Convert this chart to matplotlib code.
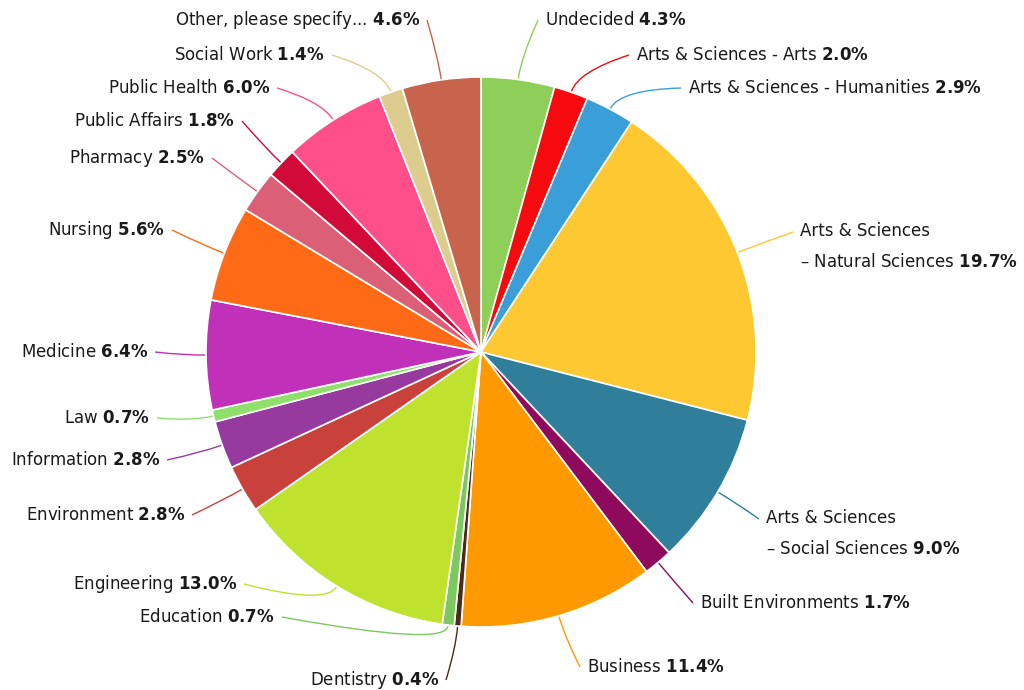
import numpy as np
import matplotlib
matplotlib.use('Agg')
import matplotlib.pyplot as plt
from matplotlib.path import Path
from matplotlib.patches import PathPatch

# ── Data ──────────────────────────────────────────────────────────────────────
categories = [
    'Undecided', 'Arts & Sciences - Arts', 'Arts & Sciences - Humanities',
    'Arts & Sciences\n– Natural Sciences', 'Arts & Sciences\n– Social Sciences',
    'Built Environments', 'Business', 'Dentistry', 'Education', 'Engineering',
    'Environment', 'Information', 'Law', 'Medicine', 'Nursing', 'Pharmacy',
    'Public Affairs', 'Public Health', 'Social Work', 'Other, please specify...',
]
shares = [4.3, 2.0, 2.9, 19.7, 9.0, 1.7, 11.4, 0.4, 0.7, 13.0,
          2.8, 2.8, 0.7, 6.4, 5.6, 2.5, 1.8, 6.0, 1.4, 4.6]
colors = ['#8ecf5a', '#f50a0f', '#3a9fd8', '#fdc832', '#2f7f9a',
          '#8e0a5c', '#ff9900', '#4a2b18', '#7dc860', '#bfe22f',
          '#c8413a', '#963aa0', '#8ee06a', '#c030b8', '#ff6a16',
          '#dc5f78', '#d10a3a', '#ff4f8b', '#dccc8e', '#c8644c']

# ── Layout (pixel coords, y measured from the top) ────────────────────────────
W, H = 1024, 690
CX, CY, R = 481, 352, 275
FS = 12
# (x, y, side) of each label; side +1 = text to the right, -1 = to the left
LABEL_POS = [
    (545, 20, 1), (636, 55, 1), (688, 88, 1), (800, 232, 1), (766, 519, 1),
    (700, 603, 1), (587, 667, 1),
    (439, 680, -1), (275, 617, -1), (237, 584, -1), (185, 515, -1),
    (160, 460, -1), (150, 418, -1), (148, 352, -1), (165, 230, -1),
    (205, 158, -1), (235, 121, -1), (270, 88, -1), (325, 55, -1),
    (420, 20, -1),
]

fig = plt.figure(figsize=(W / 100, H / 100), dpi=100)
ax = fig.add_axes([0, 0, 1, 1])

wedges, _ = ax.pie(shares, colors=colors, startangle=90, counterclock=False,
                   center=(CX, H - CY), radius=R,
                   wedgeprops=dict(edgecolor='white', linewidth=1.2))
ax.set_xlim(0, W)
ax.set_ylim(0, H)
ax.set_aspect('equal')
ax.axis('off')

# ── Labels with curved connectors ─────────────────────────────────────────────
for w, name, val, col, (lx, ly, side) in zip(wedges, categories, shares,
                                              colors, LABEL_POS):
    ang = np.deg2rad((w.theta1 + w.theta2) / 2)
    p0 = (CX + (R + 1) * np.cos(ang), H - CY + (R + 1) * np.sin(ang))
    pc = (CX + (R + 22) * np.cos(ang), H - CY + (R + 22) * np.sin(ang))
    p1 = (lx - 7 * side, H - ly)
    path = Path([p0, pc, p1], [Path.MOVETO, Path.CURVE3, Path.CURVE3])
    ax.add_patch(PathPatch(path, fill=False, edgecolor=col, lw=1.0))

    label = f'{name} $\\bf{{{val:.1f}\\%}}$'
    if '\n' in name:
        ax.text(lx, H - ly + 10, label, ha='left', va='top', fontsize=FS,
                color='#1a1a1a', linespacing=1.9)
    else:
        ax.text(lx, H - ly, label, ha='left' if side > 0 else 'right',
                va='center', fontsize=FS, color='#1a1a1a')

fig.savefig('out.png', dpi=100, facecolor='white')
